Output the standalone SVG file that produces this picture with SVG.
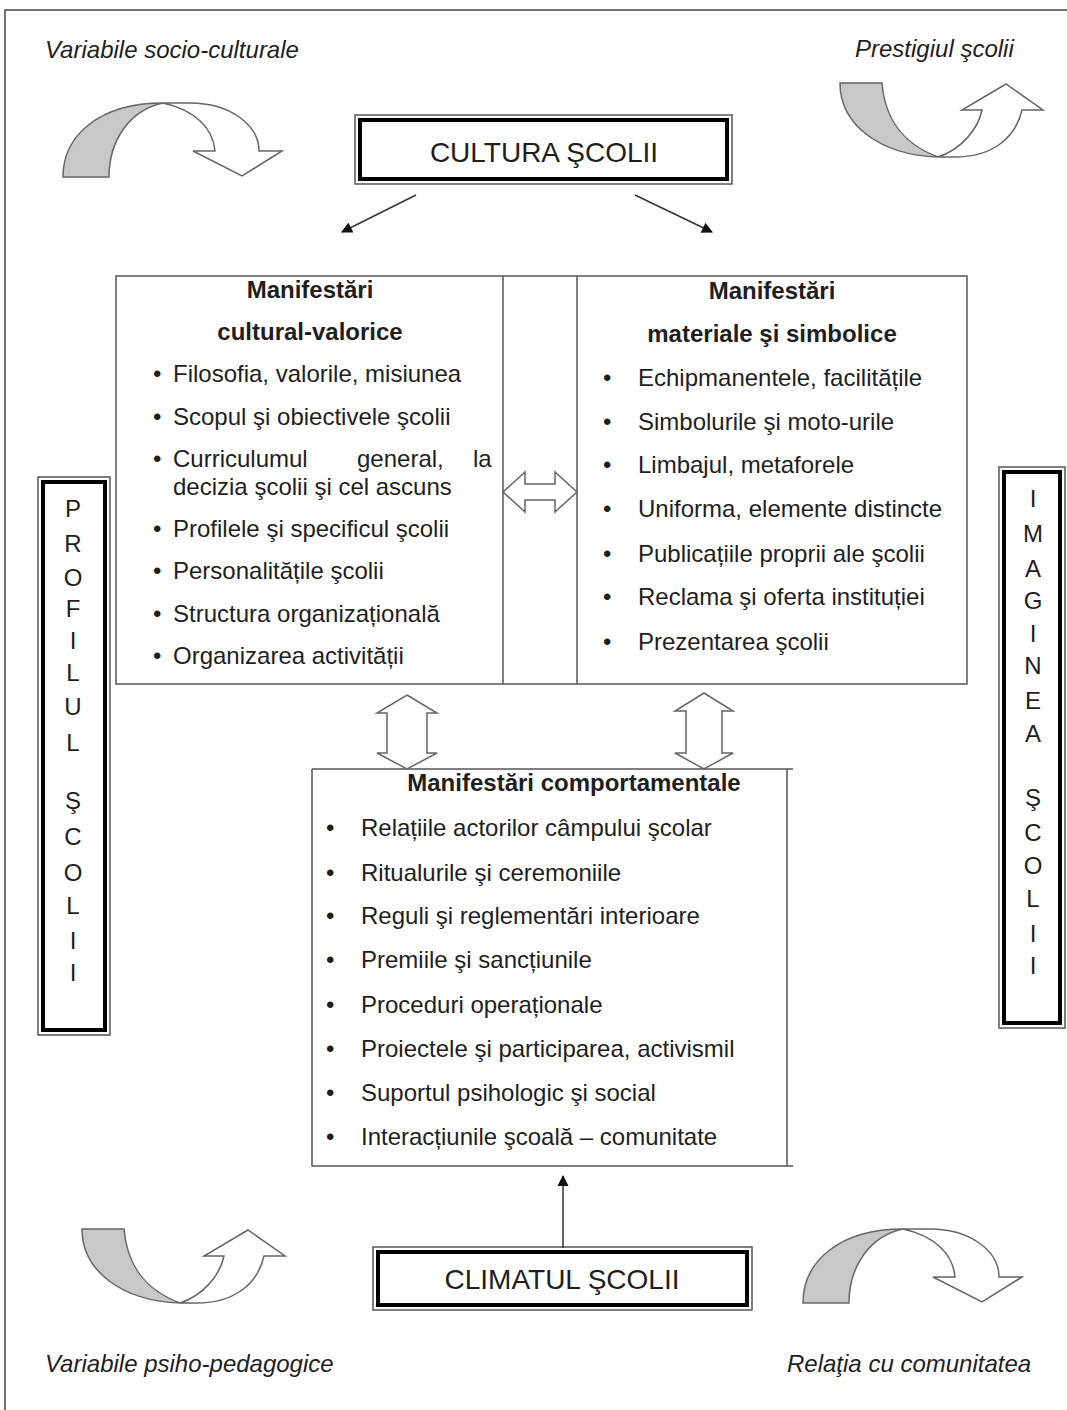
<svg xmlns="http://www.w3.org/2000/svg" width="1067" height="1410" viewBox="0 0 1067 1410">
<defs>
<style>
text{font-family:"Liberation Sans",Arial,sans-serif;fill:#1e1e1e}
.it{font-style:italic;font-size:24px}
.t{font-size:24px}
.b{font-size:24px;font-weight:bold;text-anchor:middle}
.big{font-size:28px;text-anchor:middle}
.v{font-size:24px;text-anchor:middle}
.frame{fill:none;stroke:#444;stroke-width:1.5}
.thin{fill:none;stroke:#555;stroke-width:1.5}
.thick{fill:#fff;stroke:#000;stroke-width:4}
.box{fill:none;stroke:#555;stroke-width:1.5}
.blk{fill:#fff;stroke:#666;stroke-width:1.5}
.gray{fill:#c8c8c8;stroke:#666;stroke-width:1.5}
.white{fill:#fff;stroke:#666;stroke-width:1.5}
.ln{stroke:#333;stroke-width:1.5;fill:none}
</style>
<marker id="ah" viewBox="0 0 10 10" refX="9" refY="5" markerWidth="12" markerHeight="11" markerUnits="userSpaceOnUse" orient="auto">
<path d="M0,0 L10,5 L0,10 Z" fill="#111"/>
</marker>
<g id="curveDown">
<path class="white" d="M163,103 L190,103 C230,103 259,125 259,151 L282,151 L242,176 L193,151 L215,151 C213,128 195,110 163,103 Z"/>
<path class="gray" d="M63,177 C63,135 100,103 163,103 C130,110 109,140 109,177 Z"/>
</g>
<g id="curveUp">
<path class="white" d="M938,157 C960,150 978,130 982,110 L962,110 L1006,84 L1043,110 L1022,110 C1015,140 990,157 955,157 Z"/>
<path class="gray" d="M840,83 L882,83 C885,120 905,145 938,157 C880,155 840,125 840,83 Z"/>
</g>
</defs>
<rect width="1067" height="1410" fill="#fff"/>
<path class="frame" d="M5,1410 L5,10 L1067,10"/>

<g id="label-socio"><text class="it" x="45" y="58">Variabile socio-culturale</text></g>
<g id="label-prestigiu"><text class="it" x="855" y="57">Prestigiul şcolii</text></g>
<g id="label-psiho"><text class="it" x="45" y="1372">Variabile psiho-pedagogice</text></g>
<g id="label-comunitate"><text class="it" x="787" y="1372">Relaţia cu comunitatea</text></g>

<g id="curve-tl"><use href="#curveDown"/></g>
<g id="curve-tr"><use href="#curveUp"/></g>
<g id="curve-bl"><use href="#curveUp" transform="translate(-758,1146)"/></g>
<g id="curve-br"><use href="#curveDown" transform="translate(740,1126)"/></g>

<g id="cultura">
<rect class="thin" x="355" y="115" width="377" height="69"/>
<rect class="thick" x="360" y="120" width="367" height="59"/>
<text class="big" x="544" y="162">CULTURA ŞCOLII</text>
</g>

<g id="climatul">
<rect class="thin" x="373" y="1247" width="379" height="63"/>
<rect class="thick" x="378" y="1252" width="369" height="53"/>
<text class="big" x="562" y="1289">CLIMATUL ŞCOLII</text>
</g>

<g id="profilul">
<rect class="thin" x="38" y="477" width="72" height="558"/>
<rect class="thick" x="43" y="482" width="62" height="548"/>
<text class="v" x="73" y="517">P</text>
<text class="v" x="73" y="552">R</text>
<text class="v" x="73" y="586">O</text>
<text class="v" x="73" y="617">F</text>
<text class="v" x="73" y="649">I</text>
<text class="v" x="73" y="681">L</text>
<text class="v" x="73" y="715">U</text>
<text class="v" x="73" y="751">L</text>
<text class="v" x="73" y="809">Ş</text>
<text class="v" x="73" y="845">C</text>
<text class="v" x="73" y="881">O</text>
<text class="v" x="73" y="914">L</text>
<text class="v" x="73" y="949">I</text>
<text class="v" x="73" y="981">I</text>
</g>

<g id="imaginea">
<rect class="thin" x="999" y="467" width="66" height="561"/>
<rect class="thick" x="1004" y="472" width="56" height="551"/>
<text class="v" x="1033" y="507">I</text>
<text class="v" x="1033" y="542">M</text>
<text class="v" x="1033" y="577">A</text>
<text class="v" x="1033" y="609">G</text>
<text class="v" x="1033" y="642">I</text>
<text class="v" x="1033" y="674">N</text>
<text class="v" x="1033" y="709">E</text>
<text class="v" x="1033" y="742">A</text>
<text class="v" x="1033" y="806">Ş</text>
<text class="v" x="1033" y="841">C</text>
<text class="v" x="1033" y="874">O</text>
<text class="v" x="1033" y="907">L</text>
<text class="v" x="1033" y="942">I</text>
<text class="v" x="1033" y="974">I</text>
</g>

<g id="table">
<rect class="box" x="116" y="276" width="851" height="408"/>
<line class="box" x1="503" y1="276" x2="503" y2="684"/>
<line class="box" x1="577" y1="276" x2="577" y2="684"/>
</g>

<g id="cultural-valorice">
<text class="b" x="310" y="298">Manifestări</text>
<text class="b" x="310" y="340">cultural-valorice</text>
<text class="t" x="153" y="382">•</text><text class="t" x="173" y="382">Filosofia, valorile, misiunea</text>
<text class="t" x="153" y="425">•</text><text class="t" x="173" y="425">Scopul şi obiectivele şcolii</text>
<text class="t" x="153" y="467">•</text><text class="t" x="173" y="467">Curriculumul</text><text class="t" x="357" y="467">general,</text><text class="t" x="473" y="467">la</text>
<text class="t" x="173" y="495">decizia şcolii şi cel ascuns</text>
<text class="t" x="153" y="537">•</text><text class="t" x="173" y="537">Profilele şi specificul şcolii</text>
<text class="t" x="153" y="579">•</text><text class="t" x="173" y="579">Personalitățile şcolii</text>
<text class="t" x="153" y="622">•</text><text class="t" x="173" y="622">Structura organizațională</text>
<text class="t" x="153" y="664">•</text><text class="t" x="173" y="664">Organizarea activității</text>
</g>

<g id="materiale-simbolice">
<text class="b" x="772" y="299">Manifestări</text>
<text class="b" x="772" y="342">materiale şi simbolice</text>
<text class="t" x="603" y="386">•</text><text class="t" x="638" y="386">Echipmanentele, facilitățile</text>
<text class="t" x="603" y="430">•</text><text class="t" x="638" y="430">Simbolurile şi moto-urile</text>
<text class="t" x="603" y="473">•</text><text class="t" x="638" y="473">Limbajul, metaforele</text>
<text class="t" x="603" y="517">•</text><text class="t" x="638" y="517">Uniforma, elemente distincte</text>
<text class="t" x="603" y="562">•</text><text class="t" x="638" y="562">Publicațiile proprii ale şcolii</text>
<text class="t" x="603" y="605">•</text><text class="t" x="638" y="605">Reclama şi oferta instituției</text>
<text class="t" x="603" y="650">•</text><text class="t" x="638" y="650">Prezentarea şcolii</text>
</g>

<g id="comportamentale">
<path class="box" d="M312,769 L793,769 M787,769 L787,1166 M793,1166 L312,1166 L312,769"/>
<text class="b" x="574" y="791">Manifestări comportamentale</text>
<text class="t" x="326" y="836">•</text><text class="t" x="361" y="836">Relațiile actorilor câmpului şcolar</text>
<text class="t" x="326" y="881">•</text><text class="t" x="361" y="881">Ritualurile şi ceremoniile</text>
<text class="t" x="326" y="924">•</text><text class="t" x="361" y="924">Reguli şi reglementări interioare</text>
<text class="t" x="326" y="968">•</text><text class="t" x="361" y="968">Premiile şi sancțiunile</text>
<text class="t" x="326" y="1013">•</text><text class="t" x="361" y="1013">Proceduri operaționale</text>
<text class="t" x="326" y="1057">•</text><text class="t" x="361" y="1057">Proiectele şi participarea, activismil</text>
<text class="t" x="326" y="1101">•</text><text class="t" x="361" y="1101">Suportul psihologic şi social</text>
<text class="t" x="326" y="1145">•</text><text class="t" x="361" y="1145">Interacțiunile şcoală – comunitate</text>
</g>

<g id="connectors">
<line class="ln" x1="416" y1="195" x2="342" y2="232" marker-end="url(#ah)"/>
<line class="ln" x1="635" y1="195" x2="712" y2="232" marker-end="url(#ah)"/>
<line class="ln" x1="563" y1="1248" x2="563" y2="1176" marker-end="url(#ah)"/>
<path class="blk" d="M503,492 L525,472 L525,484 L555,484 L555,472 L577,492 L555,512 L555,500 L525,500 L525,512 Z"/>
<path class="blk" d="M407,695 L437,713 L427,713 L427,753 L437,753 L407,769 L377,753 L387,753 L387,713 L377,713 Z"/>
<path class="blk" d="M704,693 L733,711 L722,711 L722,753 L733,753 L704,769 L675,753 L686,753 L686,711 L675,711 Z"/>
</g>
</svg>
